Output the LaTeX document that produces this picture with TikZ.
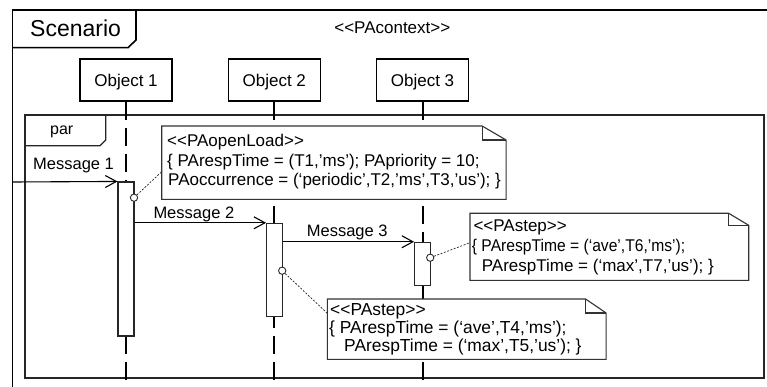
\documentclass[tikz,border=0pt]{standalone}
\usepackage{fontspec}
\setmainfont{Liberation Sans}[Ligatures=TeXOff]
\usetikzlibrary{arrows.meta}

\newcommand\fs[1]{\fontsize{#1}{#1}\selectfont}
% note outline with a folded top-right corner: node, fold width, fold height
\newcommand\drawnote[3]{%
  \draw[noteline] (#1.south west) -- (#1.north west) -- ([xshift=-#2]#1.north east)
     -- ([yshift=-#3]#1.north east) -- (#1.south east) -- cycle;
  \draw[noteline] ([xshift=-#2]#1.north east) -- ([xshift=-#2,yshift=-#3]#1.north east)
     -- ([yshift=-#3]#1.north east);}

\begin{document}
\begin{tikzpicture}[x=1pt,y=-1pt,
  frameline/.style={line width=1.6pt, draw=black},
  parline/.style={line width=1.3pt, draw=black!85},
  objbox/.style={draw, line width=1.5pt, minimum width=92pt, minimum height=42pt,
    inner sep=0pt, font=\fs{17}, text height=12.2pt, text depth=0pt},
  lifeline/.style={line width=2pt, dash pattern=on 18pt off 8pt},
  actbar/.style={draw=black!85, fill=white, line width=1.1pt, inner sep=0pt},
  msg/.style={line width=1.1pt, -{Straight Barb[length=11pt,width=12pt]}},
  mlabel/.style={anchor=base west, inner sep=0pt, font=\fs{16.5}},
  notebg/.style={fill=white, draw=none, inner sep=0pt, anchor=north west},
  noteline/.style={draw=black!80, line width=1.1pt},
  ntext/.style={anchor=base west, inner sep=0pt, font=\fs{17}},
  hook/.style={circle, draw=black!85, fill=white, minimum size=7.3pt, inner sep=0pt, line width=0.9pt},
  tie/.style={draw=black!85, line width=0.7pt, dash pattern=on 2pt off 1.5pt}]

\useasboundingbox (0,0) rectangle (767,387);
\clip (0,0) rectangle (767,387);

% outer scenario frame (runs past the right and bottom edges)
\draw[frameline] (12.5,10) rectangle (790,400);
\draw[frameline] (12.5,47.7) -- (128,47.7) -- (136,40) -- (136,10);
\node[anchor=base west, inner sep=0pt, font=\fs{23}] (scn) at (30,36.7) {Scenario};
\node[anchor=base, inner sep=0pt, font=\fs{17}] (ctx) at (392.3,33.3) {<<PAcontext>>};

% par fragment
\draw[parline] (25,115) rectangle (764,378);
\draw[parline] (25,145.7) -- (100,145.7) -- (105.7,140) -- (105.7,115);
\node[anchor=base west, inner sep=0pt, font=\fs{16}] (par) at (50,135) {par};

% objects and lifelines
\node[objbox] (o1) at (126,80) {Object 1};
\node[objbox] (o2) at (274.3,80) {Object 2};
\node[objbox] (o3) at (422.5,80) {Object 3};
\draw[lifeline] (o1.south) -- ++(0,300);
\draw[lifeline] (o2.south) -- ++(0,300);
\draw[lifeline] (o3.south) -- ++(0,300);

% activation bars
\node[actbar, minimum width=16pt, minimum height=154pt] (a1) at (126,259) {};
\node[actbar, minimum width=15.6pt, minimum height=92.7pt] (a2) at (274.4,269.7) {};
\node[actbar, minimum width=15.7pt, minimum height=43.4pt] (a3) at (422.4,264) {};

% messages
\coordinate (m1s) at (12.5,182);
\draw[msg] (m1s) -- (a1.north west);
\draw[msg] (a1.east |- a2.north) -- (a2.north west);
\draw[msg] (a2.east |- a3.north) -- (a3.north west);
\node[mlabel] (l1) at (33,170) {Message 1};
\node[mlabel] (l2) at (153.3,218.3) {Message 2};
\node[mlabel] (l3) at (306.7,236.7) {Message 3};

% attachment points
\node[hook] (c1) at (134,197.7) {};
\node[hook] (c2) at (282.2,270.7) {};
\node[hook] (c3) at (430.2,257.7) {};

% notes
\node[notebg, minimum width=344pt, minimum height=73pt] (n1) at (161.7,126) {};
\drawnote{n1}{24pt}{14pt}
\node[ntext] (n1a) at (167,146.7) {<<PAopenLoad>>};
\node[ntext] (n1b) at (167,166.2) {\{ PArespTime = (T1,’ms’); PApriority = 10;};
\node[ntext] (n1c) at (168,185.7) {PAoccurrence = (‘periodic’,T2,’ms’,T3,’us’); \}};

\node[notebg, minimum width=278.3pt, minimum height=66.7pt] (n2) at (470,213.3) {};
\drawnote{n2}{20pt}{12pt}
\node[ntext] (n2a) at (473.3,231.7) {<<PAstep>>};
\node[ntext] (n2b) at (471.7,251.7) {\scalebox{0.92}[1]{\{ PArespTime = (‘ave’,T6,’ms’);}};
\node[ntext] (n2c) at (481.7,271) {PArespTime = (‘max’,T7,’us’); \}};

\node[notebg, minimum width=278.4pt, minimum height=60pt] (n3) at (327.3,299) {};
\drawnote{n3}{20.5pt}{14pt}
\node[ntext, font=\fs{17.4}] (n3a) at (330,315) {<<PAstep>>};
\node[ntext, font=\fs{17.4}] (n3b) at (329,333.3) {\{ PArespTime = (‘ave’,T4,’ms’);};
\node[ntext, font=\fs{17.4}] (n3c) at (344,351.7) {PArespTime = (‘max’,T5,’us’); \}};

% dotted ties from attachment points to notes
\coordinate (t1) at (161.7,171.7);
\coordinate (t2) at (470,242.7);
\coordinate (t3) at (327.3,313.3);
\draw[tie] (c1) -- (t1);
\draw[tie] (c3) -- (t2);
\draw[tie] (c2) -- (t3);
\end{tikzpicture}
\end{document}
